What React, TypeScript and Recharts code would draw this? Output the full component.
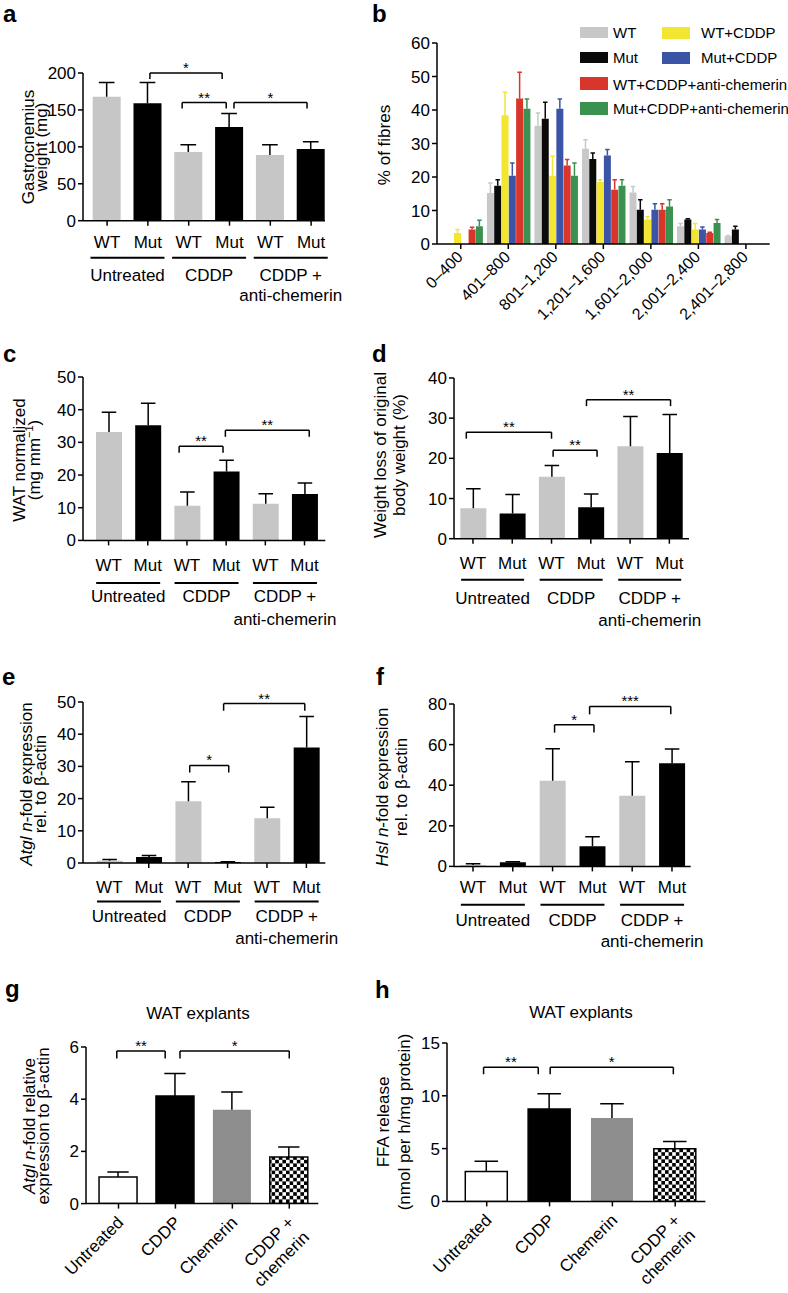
import React from 'react';
import { BarChart, Bar, XAxis, YAxis, Cell, ReferenceLine } from 'recharts';

const FONT = '"Liberation Sans", Arial, Helvetica, sans-serif';
const INK = '#000000';
const LIGHT = '#c6c6c6';
const MID = '#8d8d8d';

// shared category labels
const genotypes = ['WT', 'Mut', 'WT', 'Mut', 'WT', 'Mut'];
const genotypeFills = [LIGHT, INK, LIGHT, INK, LIGHT, INK];
const treatmentGroups = [['Untreated'], ['CDDP'], ['CDDP +', 'anti-chemerin']];
const explantGroups = [['Untreated'], ['CDDP'], ['Chemerin'], ['CDDP +', 'chemerin']];

// a: gastrocnemius weight (mg)
const gastroMean = [168, 159, 93, 127, 89, 97];
const gastroErr = [19, 28, 10, 18, 14, 10];
const gastroTicks = [0, 50, 100, 150, 200];
const gastroSig = [
  { from: 2.05, to: 3.82, y: 200, label: '*' },
  { from: 2.84, to: 3.92, y: 160, label: '**' },
  { from: 4.11, to: 5.9, y: 160, label: '*' },
];

// b: % of fibres per cross-sectional area bin
const fibreBins = ['0–400', '401–800', '801–1,200', '1,201–1,600', '1,601–2,000', '2,001–2,400', '2,401–2,800'];
const fibreTicks = [0, 10, 20, 30, 40, 50, 60];
const fibreWT = [0, 15.2, 35.3, 28.4, 15.4, 5.3, 2.3];
const fibreWTErr = [0, 3.0, 3.8, 2.7, 1.8, 0.8, 0.2];
const fibreMut = [0, 17.4, 37.4, 25.4, 10.2, 7.3, 4.3];
const fibreMutErr = [0, 1.8, 4.9, 1.8, 3.0, 0.2, 1.0];
const fibreWTCddp = [3.3, 38.4, 20.4, 18.5, 7.3, 4.3, 0];
const fibreWTCddpErr = [1.0, 6.9, 5.8, 0.7, 0.8, 1.8, 0];
const fibreMutCddp = [0, 20.4, 40.4, 26.4, 10.2, 4.3, 0];
const fibreMutCddpErr = [0, 3.8, 2.9, 1.8, 1.8, 0.8, 0];
const fibreWTAnti = [4.3, 43.4, 23.4, 16.2, 10.2, 3.3, 0];
const fibreWTAntiErr = [0.7, 7.9, 1.8, 3.0, 1.8, 0.2, 0];
const fibreMutAnti = [5.3, 40.4, 20.4, 17.4, 11.2, 6.3, 0];
const fibreMutAntiErr = [1.8, 2.9, 3.8, 1.8, 2.0, 1.0, 0];

const fibreSeries = [
  { key: 'wt', name: 'WT', color: '#c8c8c8', mean: fibreWT, err: fibreWTErr },
  { key: 'mut', name: 'Mut', color: '#0a0a0a', mean: fibreMut, err: fibreMutErr },
  { key: 'wtc', name: 'WT+CDDP', color: '#f2e631', mean: fibreWTCddp, err: fibreWTCddpErr },
  { key: 'mutc', name: 'Mut+CDDP', color: '#3c54a6', mean: fibreMutCddp, err: fibreMutCddpErr },
  { key: 'wta', name: 'WT+CDDP+anti-chemerin', color: '#d8352b', mean: fibreWTAnti, err: fibreWTAntiErr },
  { key: 'muta', name: 'Mut+CDDP+anti-chemerin', color: '#3b9150', mean: fibreMutAnti, err: fibreMutAntiErr },
];
// legend slots: [swatch x, swatch y, swatch h, text x, text baseline]
const legendSlots = [
  [580, 27, 11, 613, 38],
  [580, 52, 11, 613, 63],
  [662, 27, 12, 701, 38],
  [662, 52, 12, 701, 63],
  [580, 77, 13, 613, 90],
  [580, 102, 13, 613, 114],
];

// c: WAT normalized (mg mm-1)
const watMean = [33.2, 35.2, 10.6, 21.1, 11.2, 14.2];
const watErr = [6, 6.8, 4.2, 3.4, 3.1, 3.4];
const watTicks = [0, 10, 20, 30, 40, 50];
const watSig = [
  { from: 2.8, to: 3.92, y: 28.8, label: '**' },
  { from: 3.98, to: 6.12, y: 33.7, label: '**' },
];

// d: weight loss (%)
const lossMean = [7.55, 6.3, 15.4, 7.8, 23, 21.3];
const lossErr = [4.9, 4.7, 2.8, 3.3, 7.4, 9.6];
const lossTicks = [0, 10, 20, 30, 40];
const lossSig = [
  { from: 0.83, to: 3.0, y: 26.5, label: '**' },
  { from: 3.04, to: 4.16, y: 22.0, label: '**' },
  { from: 3.89, to: 6.03, y: 34.6, label: '**' },
];

// e: Atgl n-fold expression
const atglMean = [0.72, 1.9, 19.2, 0.3, 13.9, 35.9];
const atglErr = [0.4, 0.4, 6, 0.1, 3.4, 9.6];
const atglTicks = [0, 10, 20, 30, 40, 50];
const atglSig = [
  { from: 3.04, to: 4.03, y: 30.3, label: '*' },
  { from: 3.9, to: 5.96, y: 49.5, label: '**' },
];

// f: Hsl n-fold expression
const hslMean = [0.66, 2, 42.2, 9.9, 34.8, 50.8];
const hslErr = [0.7, 0.3, 15.8, 4.7, 16.8, 7];
const hslTicks = [0, 20, 40, 60, 80];
const hslSig = [
  { from: 3.05, to: 4.04, y: 69.8, label: '*' },
  { from: 3.93, to: 5.97, y: 78.8, label: '***' },
];

// g: WAT explants, Atgl relative expression
const explAtglMean = [1.02, 4.12, 3.6, 1.79];
const explAtglErr = [0.19, 0.86, 0.68, 0.38];
const explAtglTicks = [0, 2, 4, 6];
const explAtglSig = [
  { from: 0.97, to: 1.82, y: 5.85, label: '**' },
  { from: 2.08, to: 4.0, y: 5.85, label: '*' },
];

// h: WAT explants, FFA release
const ffaMean = [2.84, 8.75, 7.9, 4.99];
const ffaErr = [0.95, 1.45, 1.35, 0.69];
const ffaTicks = [0, 5, 10, 15];
const ffaSig = [
  { from: 0.95, to: 1.82, y: 12.7, label: '**' },
  { from: 2.01, to: 3.97, y: 12.7, label: '*' },
];

type Sig = { from: number; to: number; y: number; label: string };

const AXIS = { stroke: INK, strokeWidth: 1.5 };
const PAD_L = 70;
const PAD_R = 45;
const PAD_T = 60;
const Y_W = 60;

const errShape = (color: string, capFrac: number) => (props: any) => {
  const { x, y, width, height } = props;
  if (!height || height <= 0.2) return <g />;
  const cx = x + width / 2;
  const cap = width * capFrac;
  return (
    <g>
      <line x1={cx} x2={cx} y1={y} y2={y + height} stroke={color} strokeWidth={1.5} />
      <line x1={cx - cap} x2={cx + cap} y1={y} y2={y} stroke={color} strokeWidth={1.5} />
    </g>
  );
};

function brackets(list: Sig[], drop: number, xId: string) {
  return list.flatMap((b, i) => [
    <ReferenceLine
      key={`h${i}`}
      xAxisId={xId}
      ifOverflow="visible"
      segment={[{ x: b.from, y: b.y }, { x: b.to, y: b.y }]}
      stroke={INK}
      strokeWidth={1.5}
      label={{ value: b.label, position: 'top', offset: 0, fontSize: 15, fill: INK }}
    />,
    <ReferenceLine key={`l${i}`} xAxisId={xId} ifOverflow="visible"
      segment={[{ x: b.from, y: b.y }, { x: b.from, y: b.y - drop }]} stroke={INK} strokeWidth={1.5} />,
    <ReferenceLine key={`r${i}`} xAxisId={xId} ifOverflow="visible"
      segment={[{ x: b.to, y: b.y }, { x: b.to, y: b.y - drop }]} stroke={INK} strokeWidth={1.5} />,
  ]);
}

type Geo = {
  x0: number; x1: number; yTop: number; yBot: number; lo: number; hi: number; bar: number;
};

type GenoProps = {
  geo: Geo; yTicks: number[]; means: number[]; errs: number[]; sig: Sig[]; drop: number;
  lbl: number; gLine: number; gText: number; gText2: number; gHalf: number;
};

const X_H = 100;

function GenotypePanel(p: GenoProps) {
  const g = p.geo;
  const padB = X_H + 10;
  // half the distance between two neighbouring bars, in px
  const halfStep = (g.x1 - g.x0) / (g.hi - g.lo) / 2;
  const rows = p.means.map((v, i) => ({ pos: i + 1, mean: v, err: p.errs[i] }));
  return (
    <div style={{ position: 'absolute', left: g.x0 - PAD_L, top: g.yTop - PAD_T }}>
      <BarChart
        width={g.x1 - g.x0 + PAD_L + PAD_R}
        height={g.yBot - g.yTop + PAD_T + padB}
        data={rows}
        barSize={g.bar}
        margin={{ top: PAD_T, right: PAD_R, left: PAD_L - Y_W, bottom: padB - X_H }}
      >
        <XAxis
          xAxisId="geno" dataKey="pos" type="number" domain={[g.lo, g.hi]} allowDataOverflow
          ticks={[1, 2, 3, 4, 5, 6]} interval={0} height={X_H} tickSize={5} tickMargin={0}
          axisLine={AXIS} tickLine={AXIS}
          tick={(t: any) => {
            const base = t.y - 5;
            const grp = t.index % 2 === 1 ? treatmentGroups[(t.index - 1) / 2] : null;
            const cx = t.x - halfStep;
            return (
              <g>
                <text x={t.x} y={base + p.lbl} textAnchor="middle" fontSize={17} fill={INK}>
                  {genotypes[t.index]}
                </text>
                {grp && (
                  <g>
                    <line x1={cx - p.gHalf} x2={cx + p.gHalf} y1={base + p.gLine} y2={base + p.gLine} stroke={INK} strokeWidth={2} />
                    {grp.map((s, k) => (
                      <text key={k} x={cx} y={base + (k === 0 ? p.gText : p.gText2)} textAnchor="middle" fontSize={17} fill={INK}>
                        {s}
                      </text>
                    ))}
                  </g>
                )}
              </g>
            );
          }}
        />
        <YAxis
          type="number" domain={[0, p.yTicks[p.yTicks.length - 1]]} allowDataOverflow ticks={p.yTicks}
          interval={0} width={Y_W} tickSize={5} tickMargin={2} axisLine={AXIS} tickLine={AXIS}
          tick={{ fill: INK, fontSize: 17 }}
        />
        <Bar xAxisId="geno" dataKey="mean" stackId="s" isAnimationActive={false}>
          {rows.map((r, i) => <Cell key={i} fill={genotypeFills[i]} />)}
        </Bar>
        <Bar xAxisId="geno" dataKey="err" stackId="s" isAnimationActive={false} shape={errShape(INK, 0.28)} />
        {brackets(p.sig, p.drop, 'geno')}
      </BarChart>
    </div>
  );
}

type ExplProps = { geo: Geo; yTicks: number[]; means: number[]; errs: number[]; sig: Sig[]; drop: number; pid: string };

function ExplantPanel(p: ExplProps) {
  const g = p.geo;
  const padB = 115;
  const EX_H = 105;
  const rows = p.means.map((v, i) => ({ pos: i + 1, mean: v, err: p.errs[i] }));
  const fills = ['#ffffff', INK, MID, `url(#chk-${p.pid})`];
  const strokes = [INK, INK, 'none', INK];
  return (
    <div style={{ position: 'absolute', left: g.x0 - PAD_L, top: g.yTop - PAD_T }}>
      <BarChart
        width={g.x1 - g.x0 + PAD_L + PAD_R}
        height={g.yBot - g.yTop + PAD_T + padB}
        data={rows}
        barSize={g.bar}
        margin={{ top: PAD_T, right: PAD_R, left: PAD_L - Y_W, bottom: padB - EX_H }}
      >
        <defs>
          <pattern id={`chk-${p.pid}`} width={7.2} height={7.2} patternUnits="userSpaceOnUse">
            <rect width={7.2} height={7.2} fill="#ffffff" />
            <rect width={3.6} height={3.6} fill={INK} />
            <rect x={3.6} y={3.6} width={3.6} height={3.6} fill={INK} />
          </pattern>
        </defs>
        <XAxis
          xAxisId="tr" dataKey="pos" type="number" domain={[g.lo, g.hi]} allowDataOverflow
          ticks={[1, 2, 3, 4]} interval={0} height={EX_H} tickSize={5} tickMargin={0}
          axisLine={AXIS} tickLine={AXIS}
          tick={(t: any) => {
            const ax = t.x + 6;
            const ay = t.y + 15;
            const lines = explantGroups[t.index] || [];
            return (
              <g transform={`translate(${ax},${ay}) rotate(-45)`}>
                {lines.map((s, k) => (
                  <text key={k} x={0} y={k * 21} textAnchor="end" fontSize={17} fill={INK}>{s}</text>
                ))}
              </g>
            );
          }}
        />
        <YAxis
          type="number" domain={[0, p.yTicks[p.yTicks.length - 1]]} allowDataOverflow ticks={p.yTicks}
          interval={0} width={Y_W} tickSize={5} tickMargin={2} axisLine={AXIS} tickLine={AXIS}
          tick={{ fill: INK, fontSize: 17 }}
        />
        <Bar xAxisId="tr" dataKey="mean" stackId="s" isAnimationActive={false}>
          {rows.map((r, i) => <Cell key={i} fill={fills[i]} stroke={strokes[i]} strokeWidth={1.5} />)}
        </Bar>
        <Bar xAxisId="tr" dataKey="err" stackId="s" isAnimationActive={false} shape={errShape(INK, 0.28)} />
        {brackets(p.sig, p.drop, 'tr')}
      </BarChart>
    </div>
  );
}

function FibrePanel() {
  const x0 = 437.3, x1 = 770, yTop = 43.3, yBot = 244.3;
  const padT = 40, padB = 95, XB_H = 85, padR = 15;
  const rows = fibreBins.map((bin, i) => {
    const r: any = { bin };
    fibreSeries.forEach((s) => {
      r[s.key] = s.mean[i];
      r[s.key + 'E'] = s.err[i];
    });
    return r;
  });
  return (
    <div style={{ position: 'absolute', left: x0 - PAD_L, top: yTop - padT }}>
      <BarChart
        width={x1 - x0 + PAD_L + padR}
        height={yBot - yTop + padT + padB}
        data={rows}
        barCategoryGap={2.4}
        barGap={0.3}
        margin={{ top: padT, right: padR, left: PAD_L - Y_W, bottom: padB - XB_H }}
      >
        <XAxis
          dataKey="bin" type="category" interval={0} height={XB_H} tickSize={5} tickMargin={0}
          axisLine={AXIS} tickLine={AXIS}
          tick={(t: any) => (
            <text transform={`translate(${t.x + 3},${t.y + 9}) rotate(-45)`} textAnchor="end" fontSize={16} fill={INK}>
              {t.payload.value}
            </text>
          )}
        />
        <YAxis
          type="number" domain={[0, 60]} allowDataOverflow ticks={fibreTicks} interval={0} width={Y_W}
          tickSize={5} tickMargin={2} axisLine={AXIS} tickLine={AXIS} tick={{ fill: INK, fontSize: 17 }}
        />
        {fibreSeries.flatMap((s) => [
          <Bar key={s.key} dataKey={s.key} stackId={s.key} fill={s.color} isAnimationActive={false} />,
          <Bar key={s.key + 'E'} dataKey={s.key + 'E'} stackId={s.key} isAnimationActive={false} shape={errShape(s.color, 0.32)} />,
        ])}
      </BarChart>
    </div>
  );
}

function YTitle({ lines, xs, cy }: { lines: React.ReactNode[]; xs: number[]; cy: number }) {
  return (
    <>
      {lines.map((l, i) => (
        <text key={i} transform={`translate(${xs[i]},${cy}) rotate(-90)`} textAnchor="middle" fontSize={17} fill={INK}>
          {l}
        </text>
      ))}
    </>
  );
}

const it = (s: string) => <tspan fontStyle="italic">{s}</tspan>;

function Overlay() {
  const letters: [string, number, number][] = [
    ['a', 3, 22], ['b', 372, 22], ['c', 3, 362], ['d', 372, 362],
    ['e', 2, 685], ['f', 376, 685], ['g', 5, 997], ['h', 375, 998],
  ];
  return (
    <svg width={788} height={1293} style={{ position: 'absolute', left: 0, top: 0, pointerEvents: 'none' }}>
      {letters.map(([l, x, y]) => (
        <text key={l} x={x} y={y} fontSize={24} fontWeight="bold" fill={INK}>{l}</text>
      ))}
      <YTitle lines={['Gastrocnemius', 'weight (mg)']} xs={[34, 47]} cy={147} />
      <YTitle lines={['% of fibres']} xs={[390]} cy={145} />
      <YTitle
        lines={['WAT normalized', <>(mg mm<tspan fontSize={11} dy={-7}>−1</tspan><tspan dy={7}>)</tspan></>]}
        xs={[25, 40]} cy={460}
      />
      <YTitle lines={['Weight loss of original', 'body weight (%)']} xs={[386, 405]} cy={455} />
      <YTitle lines={[<>{it('Atgl n')}-fold expression</>, 'rel. to β-actin']} xs={[32, 46]} cy={784} />
      <YTitle lines={[<>{it('Hsl n')}-fold expression</>, 'rel. to β-actin']} xs={[388, 407]} cy={787} />
      <YTitle lines={[<>{it('Atgl n')}-fold relative</>, 'expression to β-actin']} xs={[35, 49]} cy={1126} />
      <YTitle lines={['FFA release', '(nmol per h/mg protein)']} xs={[389, 410]} cy={1122} />
      <text x={198} y={1019} textAnchor="middle" fontSize={17} fill={INK}>WAT explants</text>
      <text x={581} y={1018} textAnchor="middle" fontSize={17} fill={INK}>WAT explants</text>
      {fibreSeries.map((s, i) => {
        const [sx, sy, sh, tx, ty] = legendSlots[i];
        return (
          <g key={s.key}>
            <rect x={sx} y={sy} width={28} height={sh} fill={s.color} />
            <text x={tx} y={ty} fontSize={15} fill={INK}>{s.name}</text>
          </g>
        );
      })}
    </svg>
  );
}

export default function App() {
  return (
    <div style={{ position: 'absolute', left: 0, top: 0, width: 788, height: 1293, background: '#fff', fontFamily: FONT, overflow: 'hidden' }}>
      <GenotypePanel
        geo={{ x0: 83, x1: 325, yTop: 73.3, yBot: 221, lo: 0.41, hi: 6.34, bar: 28 }}
        yTicks={gastroTicks} means={gastroMean} errs={gastroErr} sig={gastroSig} drop={8}
        lbl={27} gLine={37} gText={60} gText2={80} gHalf={37}
      />
      <FibrePanel />
      <GenotypePanel
        geo={{ x0: 82.7, x1: 325, yTop: 377.3, yBot: 540.7, lo: 0.347, hi: 6.53, bar: 26 }}
        yTicks={watTicks} means={watMean} errs={watErr} sig={watSig} drop={2}
        lbl={30.5} gLine={42.6} gText={62} gText2={85} gHalf={32}
      />
      <GenotypePanel
        geo={{ x0: 454, x1: 689, yTop: 378.3, yBot: 539, lo: 0.517, hi: 6.5, bar: 26 }}
        yTicks={lossTicks} means={lossMean} errs={lossErr} sig={lossSig} drop={1.6}
        lbl={30.3} gLine={41} gText={65} gText2={87} gHalf={31.5}
      />
      <GenotypePanel
        geo={{ x0: 82.7, x1: 325, yTop: 702.3, yBot: 863.3, lo: 0.332, hi: 6.48, bar: 26 }}
        yTicks={atglTicks} means={atglMean} errs={atglErr} sig={atglSig} drop={2.2}
        lbl={29.7} gLine={38.4} gText={59.4} gText2={81} gHalf={32}
      />
      <GenotypePanel
        geo={{ x0: 454, x1: 690.7, yTop: 704.3, yBot: 866.7, lo: 0.523, hi: 6.47, bar: 26 }}
        yTicks={hslTicks} means={hslMean} errs={hslErr} sig={hslSig} drop={3.9}
        lbl={26.3} gLine={38.3} gText={60} gText2={81} gHalf={32}
      />
      <ExplantPanel
        geo={{ x0: 86, x1: 318.3, yTop: 1046.7, yBot: 1203.3, lo: 0.429, hi: 4.51, bar: 38 }}
        yTicks={explAtglTicks} means={explAtglMean} errs={explAtglErr} sig={explAtglSig} drop={0.29} pid="g"
      />
      <ExplantPanel
        geo={{ x0: 447.3, x1: 705.7, yTop: 1043.3, yBot: 1201.7, lo: 0.368, hi: 4.48, bar: 42 }}
        yTicks={ffaTicks} means={ffaMean} errs={ffaErr} sig={ffaSig} drop={0.66} pid="h"
      />
      <Overlay />
    </div>
  );
}
